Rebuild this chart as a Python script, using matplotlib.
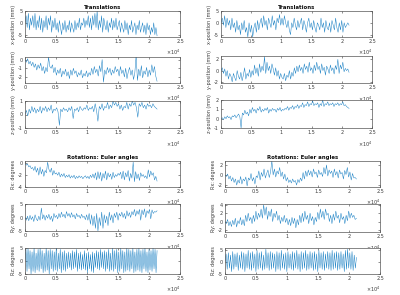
import numpy as np
import matplotlib
matplotlib.use("Agg")
import matplotlib.pyplot as plt

# ---------------- data ----------------
n_left = 21300
n_right = 21200

tx_left = [0, 3, -2, 4, -3, 2, -1, 3, -2, 4, -3, 1, -2, 3, -3, 2, -4, 1, -2, 3, -3, 2, -1, 3, -4, 1, -2, 2,
           -3, 0, -4, 1, -2, -5, 0, -3, 1, -4, -1, -3, 1, -4, 0, -2, -4, 1, -3, 0, -2, 2, -3, 0, -1, 2, -2, 1,
           -1, 3, -2, 2, -3, 3, -1, 4, -2, 5, -3, 1, -2, 3, -4, 2, -1, -3, 1, -4, 0, -2, 2, -3, 1, -2, 2, -3,
           -1, 1, -4, 0, -2, -4, 1, -3, 0, -5, -1, -3, 1, -4, -2, 0, -5, -1, -3, 1, -4, -2, 0, -4, -1, -5, 0,
           -3, -1, -5, -2, -4, 0, -5, -2, -5.5]
ty_left = [0, -0.3, 0.1, -0.5, -0.2, -0.7, -0.3, -0.9, -0.5, -1.2, -0.6, -1.0, -0.4, -1.3, -0.8, -1.6, -0.9,
           -1.4, 0.3, -0.8, -1.0, -0.6, -1.5, -0.9, -1.8,
           -1.2, -1.6, -1.0, -2.0, -1.3, -1.7, -1.1, -1.9, -1.4, -2.2, -1.2, -1.8, -1.0, -1.6, -1.3, -2.0,
           -1.5, -1.8, -1.2, -2.1, -1.6, -1.9, -1.3,
           -2.0, -1.5, -1.8, -1.0, -1.7, -0.8, -1.5, -1.1, -1.9, -0.7, -1.4, 0.0, -2.6, -1.2, -1.7, -0.9,
           -1.5, -1.0, -1.8, -1.2, -1.6, -0.8, -1.4,
           -1.1, -1.9, -0.8, -1.6, -1.2, -2.0, -1.0, -2.2, -1.4, -0.9, -1.8, -1.2, -2.3, -1.5, 0.5, -2.4,
           -1.1, -1.9, -0.7, -2.1, -1.3, -1.7, -0.9, -2.0, -1.2, -1.8, -0.6, -1.5, -0.8, -1.9, -2.5]
tz_left = [0, 0.3, -0.1, 0.4, 0.1, 0.6, 0.2, 0.5, 0.1, 0.4, 0.2, 0.6, 0.1, 0.5, 0.3, 0.6, 0.2, 0.5, 0.3, 0.7,
           0.1, 0.4, 0.3, 0.5, 0.2, -0.8, 0.4, 0.2, 0.5, 0.3,
           0.4, 0.2, 0.5, 0.3, 0.6, -0.3, 0.4, 0.3, 0.5, 0.2, 0.6, 0.4, 0.3, 0.5, 0.4, 0.7, 0.3, 0.5, 0.4,
           0.6, 0.2, 0.8, 0.3, -0.5, 0.6, 0.4, 0.8, 0.3, 0.6, 0.5, 0.9, 0.4, 0.7,
           0.5, 1.0, 0.7, 0.9, 0.6, 0.8, 0.4, 0.7, 0.3, 0.6, 0.5, 0.9, 0.4, 0.8, 0.6, 1.0, 0.7, 0.9, 0.5,
           -0.2, 0.8, 0.6, 0.9, 0.5, 0.7, 0.4, 0.8, 0.6, 0.7, 0.5, 0.8, 0.6, 0.5, 0.4]

tx_right = [0, 2, -1, 3, -2, 2, -1, 1, -3, 2, -2, 0, -4, 1, -3, -1, -5, 0, -3, 1, -4, -2, -6, 0, -4,
            -1, -6, -2, 0, -4, 1, -3, 0, 2, -2, 3, -1, 1, -3, 2, 0, -2, 3, -1, 1, -3, 2, 0, 3.5, -1,
            2, -1, 3, 0, -2, 1, -3, -5, 0, -2, 2, -1, -3, 1, -2, 0, 2, -3, 1, -1, -4, 0, 2, -2, 0,
            -3, 1, -2, -4, 0, -1, -3, 2, -2, 0, -4, 1, -2, -3, 0, -4, 1, -1, -3, 2, -2, -4, 0, -3, 1,
            -4, 0, -2, -1, 0, -1]
ty_right = [0, 0.5, -0.5, 0.3, -1, 0, -1.5, -0.5, -1, -2, -0.5, -1.2, -1.8, 0, -1, -1.5, -0.3, -1.8, -0.8,
            0.5, -1.5, -0.5, -1, 0.2, -1.2,
            0, -0.8, 1, -0.5, 0.5, -1, 1.2, -0.3, 0.8, 0, 2.5, -0.5, 1.5, 0, 0.8, -0.5, 1.2, 0.3, -0.8,
            0.5, -1, 0, -1.5, -0.5, -1.2,
            -1.5, -0.5, -1.8, -0.8, -1.2, 0, -1.5, -0.3, -1, 0.5, -0.5, 0.8, -0.2, 1, 0, 0.6, -0.5, 1.2,
            0.2, 0.8, -0.3, 1.5, 0, 0.5, -0.5,
            1, 0, 1.5, 0.2, 0.8, -0.5, 1.2, 0, 0.6, -0.8, 0.8, 0.3, -0.5, 1, 0, 0.5, -0.6, 0.9, 0.2, 2,
            -0.5, 1, 0.3, 1.5, -0.2, 0.4, 0, 0.3, -0.3]
tz_right = [0, 0.1, -0.1, 0.2, 0, 0.3, 0.1, 0.2, -0.1, 0.3, 0.2, 0.4, 0.1, 0.3, 0.5, 0.2, -1.0, 0.6, 0.4,
            0.9, 0.5, 0.7, 0.3, 1.0, 0.6,
            1.2, 0.8, 1.0, 0.6, 1.1, 0.9, 1.3, 0.7, 1.0, 0.8, 1.1, 0.9, 1.2, 0.6, 1.0, 0.8, 1.1, 0.9, 1.0,
            0.7, 1.1, 0.9, 1.2, 0.8, 1.0,
            0.9, 1.1, 1.0, 1.3, 0.9, 1.2, 1.1, 1.4, 1.0, 1.3, 1.2, 1.5, 1.1, 1.4, 1.3, 1.7, 1.2, 1.5, 1.4,
            1.8, 1.3, 1.6, 1.5, 1.9, 1.4,
            1.6, 1.5, 1.7, 1.2, 1.6, 1.4, 2.0, 1.3, 1.6, 1.5, 1.8, 1.4, 1.6, 1.5, 1.7, 1.3, 1.6, 1.5, 1.7,
            1.4, 1.6, 1.5, 1.8, 1.4, 1.5, 1.3, 1.2, 1.1]

rx_left = [0, -0.3, -0.1, -0.6, -0.4, -0.9, -0.7, -1.2, -0.5, -1.5, -0.8, -2.0, -0.6, -1.8, -1.0, -2.2, -1.2,
           -1.6, 0.2, -1.0, -1.5, -0.8, -2.0, -1.2, -1.8,
           -1.6, -2.0, -1.5, -2.3, -1.8, -2.2, -1.7, -2.4, -2.0, -2.3, -1.9, -2.5, -2.1, -2.4, -2.0, -2.6,
           -2.2, -2.5, -2.1, -2.4, -2.2, -2.6, -2.3, -2.1, -2.5,
           -2.2, -2.6, -2.0, -2.4, -1.8, -2.5, -1.6, -2.8, -1.4, -2.6, -1.5, -3.0, -1.7, -2.5, -1.3, -2.8,
           -1.6, -2.3, -1.8, -2.7, -1.5, -2.4, -1.9, -2.2, -1.7,
           -2.0, -1.5, -2.6, -1.3, -2.8, -1.6, -2.3, -1.2, -3.0, -1.7, -2.5, 0.2, -3.1, -1.4, -2.6, -1.8,
           -2.9, -1.6, -2.2, -1.9, -2.4, -2.1, -2.6, -1.1, -2.3, -1.3, -2.0, -1.6, -2.8, -2.2, -3.0]
ry_left = [0, -1, 0.5, -1.2, 0.8, -0.8, 0.3, -1.5, 1, -0.5, -1.2, 0.5, -1, 3.5, -0.5, 1, -1, 0.8, -0.3, 1.2,
           -0.8, 0.5, -1.5, 1.5, 0,
           0.8, -0.5, 1.5, 0, 2, 0.3, 1.2, -0.2, 2.2, 0.5, 1.5, 0, 1.8, 0.2, 1, -0.5, 1.5, 0.3, 0.8, -0.3,
           1.2, 0, 0.5, -0.8, 1,
           -1, 1.5, -2.5, 1, -3, 0.5, -4, 1.5, -5, 0, -3, 2, -4, 1, -2, 0.5, -3, 2, -1, 1, -2, 1.5, 0, 2, -1,
           1.5, 0.5, 2, 0, 1.5, -0.5, 2.5, 0.5, 1.8, 0, 2.2, 1, 3, 0.5, 2.5, 1.2, 3, -1, 2.8, 1, 3.2, 0,
           2.5, 1.5, 3, -0.5, 2.8, 1.5, 2.2, 2, 2.5]
rz_left = [0, 4.5, -4, 5, -3, 4, -5, 3.5, -4, 5, -4.5, 3, -3.5, 4.5, -4, 5, -3, 4, -4.5, 3, -4, 5, -3.5, 4,
           -5, 4.5, -3, 4, -4, 3.5, -3.5, 5, -4, 3, -3, 4.5, -4.5, 3.5, -3.5, 4, -4, 3, -3, 3.5, -2.5, 3,
           -3.5, 4, -3, 3.5, -2.5, 4.5, -4, 3, -3, 3.5, -3.5, 2.5, -3, 4, -3.5, 3, -4.5, 3.5, -3, 2.5, -4,
           3.5, -4.5, 3, -2.5, 4, -3, 3.5, -3.5, 4.5, -2.5, 3.5, -3, 4, -4, 3.5, -3, 4.5, -4, 3, -3.5, 5,
           -4, 4, -3, 4.5, -4.5, 3.5, -4, 5, -3, 4, -4.5, 3.5, -4, 5, -3.5, 4.5, -4, 4, -3, 5, -4.5, 3.5,
           -4, 4.5, -3.5, 5, -4, 4, -4.5, 4.5, -3, 5, -4, 3.5, -4.5, 4.5, -3.5, 4, -4, 5, -3, 4.5, -4.5, 4]

rx_right = [0, -0.3, 0.2, -0.8, -0.2, -1.2, -0.5, -1.5, -0.8, -2.0, -1.0, -1.6, -0.3, -1.8, -0.8, -1.2,
            -0.4, -2.2, -0.6, -1.0, 0.3, -1.2, -0.5, -1.8, -0.2,
            -0.5, 0.8, -1.0, 0.5, -0.3, 1.2, -0.6, 0.3, 1.0, -0.5, 0.6, 2.8, 0, 1.2, -0.4, 0.8, 0.2, 1.5,
            -0.3, 0.6, -0.8, 0.2, -1.2, -0.5, -1.5,
            -1.0, -1.6, -0.8, -1.4, -1.1, -2.0, -0.9, -1.5, -0.6, -1.2, 0.5, -0.8, 0.8, -0.3, 1.0, 0, 0.8,
            -0.4, 1.2, 0.2, 0.6, -0.5, 1.0, 0.1, 0.5,
            -0.3, 1.5, 0.2, 2.0, -0.2, 1.0, 0.3, 0.8, -0.5, 1.2, 0, 0.7, -0.6, 1.0, 0.2, 0.5, -0.8, 0.9,
            0.1, 1.5, -0.4, 0.6, -1.0, 0.3, -0.6, -0.5, -0.8]
ry_right = [0, -0.5, 0.5, -1, 0, -1.2, 0.3, -0.8, 0.8, -1.3, 0.2, -0.5, 1, -0.8, 0.5, -1, 1.5, 0, 2, 0.2,
            1, -0.5, 1.5, 0, 2.5,
            0.5, 2, 1, 3, 0.8, 4, 1.5, 3.5, 0.5, 2.5, 1.2, 3, 0, 2, 1, 2.5, 0.3, 1.5, -0.5, 1, 0, 1.5,
            -0.2, 0.8, -0.8,
            0.5, -1, 1, -0.5, 0.8, -1.5, 0.5, -0.8, 1.5, -0.3, 2, 0, 2.5, 0.5, 1.5, -0.5, 2, 0.2, 1.2,
            -0.8, 1, 0, 2.2, 0.5, 3,
            1, 2.5, 0.5, 3, 1.5, 2, 0, 1.5, -0.5, 1.8, 0.3, 2.5, 0.8, 1.5, -0.3, 2, 0.5, 1.2, -0.5, 1.5,
            0.2, 2.5, 0.8, 2, 1, 1.5, 0.5, 0.8]
rz_right = [0, 3.5, -3, 4, -2.5, 3, -4, 4.5, -3, 3.5, -2, 4, -3.5, 3, -2.5, 4.5, -3, 4, -4, 3.5, -2.5, 5,
            -3, 4, -3.5, 4.5, -2.5, 3.5, -4, 5, -3, 4, -2.5, 4.5, -3.5, 3, -3, 5.5, -2.5, 4, -3.5, 4.5,
            -3, 4, -2.5, 3.5, -4, 4.5, -3, 4, -3.5, 5, -2.5, 3.5, -3, 4, -4, 4.5, -2.5, 3.5, -3, 4.5,
            -3.5, 4, -2.5, 5, -3, 3.5, -4, 4.5, -3, 4, -2.5, 5, -3.5, 3.5, -3, 4.5, -2.5, 4, -3.5, 4.5,
            -3, 3.5, -4, 5, -2.5, 4, -3, 4.5, -3.5, 3.5, -2.5, 4.5, -3, 4, -3.5, 5, -3, 4, -2.5, 4.5,
            -3.5, 4, -3, 4.5, -2.5, 3.5, -4, 5, -3, 5.5, -2.5, 4, -3, 4.5, -3.5, 3, -2.5, 2]

# ---------------- layout helpers ----------------
W, H = 400, 295
fig = plt.figure(figsize=(W / 100, H / 100), dpi=100)

BLUE = '#0072BD'
AXC = '#3a3a3a'
FS = 3.5


def make_ax(x0, x1, top, bot):
    return fig.add_axes([x0 / W, 1 - bot / H, (x1 - x0) / W, (bot - top) / H])


def style(ax, ylim, yticks, ylabel, n):
    ax.set_xlim(0, 25000)
    ax.set_xticks([0, 5000, 10000, 15000, 20000, 25000])
    ax.set_xticklabels(['0', '0.5', '1', '1.5', '2', '2.5'])
    ax.set_ylim(*ylim)
    ax.set_yticks(yticks)
    ax.set_yticklabels([('%g' % t) for t in yticks])
    ax.tick_params(direction='in', length=1.5, width=0.4, labelsize=FS, pad=1.5, colors=AXC,
                   top=True, right=True)
    for s in ax.spines.values():
        s.set_linewidth(0.5)
        s.set_color('#555555')
    ax.set_ylabel(ylabel, fontsize=FS, labelpad=1.5, color=AXC)
    ax.text(1.0, -0.42, r'$\times10^4$', transform=ax.transAxes, fontsize=FS, ha='right',
            va='top', color=AXC)


def draw(ax, vals, n):
    x = np.linspace(0, n, len(vals))
    ax.plot(x, vals, color=BLUE, lw=0.35, alpha=0.9)


panels = [
    # (values, n, x0, x1, top, bot, ylim, yticks, ylabel)
    (tx_left, n_left, 25, 180, 11, 37, (-6, 5), [-5, 0, 5], 'x-position (mm)'),
    (ty_left, n_left, 25, 180, 57, 83, (-2.7, 0.3), [-2, -1, 0], 'y-position (mm)'),
    (tz_left, n_left, 25, 180, 101, 128, (-1, 1), [-1, 0, 1], 'z-position (mm)'),
    (tx_right, n_right, 221, 372, 11, 37, (-6, 5), [-5, 0, 5], 'x-position (mm)'),
    (ty_right, n_right, 221, 372, 56, 83, (-2.2, 2.6), [-2, 0, 2], 'y-position (mm)'),
    (tz_right, n_right, 221, 372, 100, 128, (-1, 2), [-1, 0, 1, 2], 'z-position (mm)'),
    (rx_left, n_left, 25, 180, 161, 187, (-4, 0.4), [-4, -2, 0], 'Rx: degrees'),
    (ry_left, n_left, 25, 180, 204, 231, (-5, 5), [-5, 0, 5], 'Ry: degrees'),
    (rz_left, n_left, 25, 180, 248, 274, (-5, 5), [-5, 0, 5], 'Rz: degrees'),
    (rx_right, n_right, 225, 380, 161, 187, (-2.4, 2.8), [-2, 0, 2], 'Rx: degrees'),
    (ry_right, n_right, 225, 380, 204, 232, (-2.5, 4.2), [-2, 0, 2, 4], 'Ry: degrees'),
    (rz_right, n_right, 225, 380, 248, 274, (-5, 6), [-5, 0, 5], 'Rz: degrees'),
]

axes = []
for vals, n, x0, x1, top, bot, ylim, yt, lab in panels:
    ax = make_ax(x0, x1, top, bot)
    draw(ax, vals, n)
    style(ax, ylim, yt, lab, n)
    axes.append(ax)

for i in (0, 3):
    axes[i].set_title('Translations', fontsize=3.9, fontweight='bold', pad=1.5, color='#111111')
for i in (6, 9):
    axes[i].set_title('Rotations: Euler angles', fontsize=3.9, fontweight='bold', pad=1.5, color='#111111')

fig.savefig('out.png', dpi=100)
